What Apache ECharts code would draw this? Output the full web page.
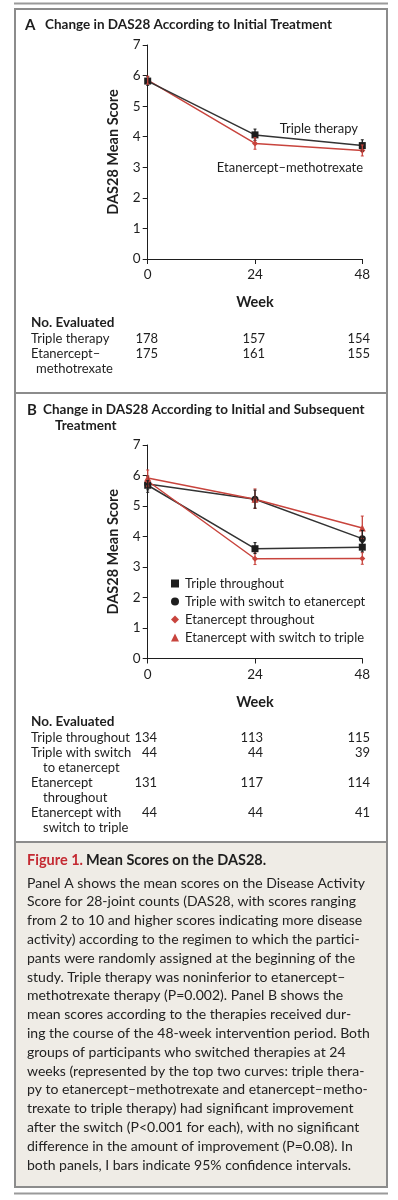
<!DOCTYPE html>
<html><head><meta charset="utf-8">
<script src="https://cdn.jsdelivr.net/npm/echarts@6/dist/echarts.min.js"></script>
<style>html,body{margin:0;padding:0;background:#fff}#c{width:398px;height:1200px}</style>
</head><body><div id="c"></div>
<script>
// ---------- data ----------
const weeks = [0, 24, 48];
const yTicks = [0, 1, 2, 3, 4, 5, 6, 7];

// Panel A
const aNames = ['Triple therapy', 'Etanercept–methotrexate'];
const aTriple = [5.82, 4.06, 3.71];
const aTripleLow = [5.68, 3.88, 3.53];
const aTripleHigh = [5.96, 4.25, 3.90];
const aEtan = [5.85, 3.78, 3.55];
const aEtanLow = [5.72, 3.59, 3.37];
const aEtanHigh = [5.98, 3.97, 3.73];
const aCounts = { 'Triple therapy': [178, 157, 154], 'Etanercept–methotrexate': [175, 161, 155] };

// Panel B
const bNames = ['Triple throughout', 'Triple with switch to etanercept', 'Etanercept throughout', 'Etanercept with switch to triple'];
const bTripleThru = [5.68, 3.60, 3.65];
const bTripleThruLow = [5.53, 3.44, 3.50];
const bTripleThruHigh = [5.83, 3.80, 3.80];
const bTripleSwitch = [5.72, 5.22, 3.93];
const bTripleSwitchLow = [5.45, 4.93, 3.66];
const bTripleSwitchHigh = [5.98, 5.52, 4.20];
const bEtanThru = [5.82, 3.27, 3.28];
const bEtanThruLow = [5.66, 3.08, 3.09];
const bEtanThruHigh = [5.98, 3.46, 3.47];
const bEtanSwitch = [5.92, 5.22, 4.28];
const bEtanSwitchLow = [5.63, 4.92, 3.93];
const bEtanSwitchHigh = [6.18, 5.56, 4.67];
const bCounts = [[134, 113, 115], [44, 44, 39], [131, 117, 114], [44, 44, 41]];

// ---------- style ----------
const FONT = 'Lato';
const BLACK = '#1e1e1e';
const LINEBLACK = '#333333';
const RED = '#c8443d';

const chart = echarts.init(document.getElementById('c'), null, { renderer: 'canvas' });

function pts(vals) { return weeks.map((w, i) => [w, vals[i]]); }
function ci(lo, hi) { return weeks.map((w, i) => [w, lo[i], hi[i]]); }

function lineSeries(name, vals, gi, color, symbol, size) {
  return {
    type: 'line', name, xAxisIndex: gi, yAxisIndex: gi, data: pts(vals),
    symbol, symbolSize: size, showAllSymbol: true, z: 3,
    lineStyle: { color: color === RED ? RED : LINEBLACK, width: 1.5 },
    itemStyle: { color, borderWidth: 0 },
    emphasis: { disabled: true }, animation: false
  };
}
function errSeries(lo, hi, gi, color) {
  return {
    type: 'custom', xAxisIndex: gi, yAxisIndex: gi, data: ci(lo, hi), z: 4, animation: false,
    renderItem(params, api) {
      const p1 = api.coord([api.value(0), api.value(1)]);
      const p2 = api.coord([api.value(0), api.value(2)]);
      return {
        type: 'group', children: [
          { type: 'line', shape: { x1: p1[0], y1: p1[1], x2: p2[0], y2: p2[1] }, style: { stroke: color, lineWidth: 1.3 } },
          { type: 'line', shape: { x1: p1[0] - 1.5, y1: p1[1], x2: p1[0] + 1.5, y2: p1[1] }, style: { stroke: color, lineWidth: 1 } },
          { type: 'line', shape: { x1: p2[0] - 1.5, y1: p2[1], x2: p2[0] + 1.5, y2: p2[1] }, style: { stroke: color, lineWidth: 1 } }
        ]
      };
    }
  };
}

function xAxis(gi) {
  return {
    type: 'value', gridIndex: gi, min: 0, max: 48, interval: 24,
    name: 'Week', nameLocation: 'middle', nameGap: 36,
    nameTextStyle: { fontFamily: FONT, fontWeight: 'bold', fontSize: 14.5, color: BLACK },
    axisLine: { show: true, lineStyle: { color: BLACK, width: 1 } },
    axisTick: { show: true, length: 5, inside: false, lineStyle: { color: BLACK } },
    axisLabel: { fontFamily: FONT, fontSize: 13.5, color: BLACK, margin: 9 },
    splitLine: { show: false }
  };
}
function yAxis(gi) {
  return {
    type: 'value', gridIndex: gi, min: 0, max: 7, interval: 1,
    name: 'DAS28 Mean Score', nameLocation: 'middle', nameRotate: 90, nameGap: 27,
    nameTextStyle: { fontFamily: FONT, fontWeight: 'bold', fontSize: 14.5, color: BLACK },
    axisLine: { show: true, lineStyle: { color: BLACK, width: 1 } },
    axisTick: { show: true, length: 5, lineStyle: { color: BLACK } },
    axisLabel: { fontFamily: FONT, fontSize: 13.5, color: BLACK, margin: 7,
      formatter: v => (yTicks.indexOf(v) >= 0 ? String(v) : '') },
    splitLine: { show: false }
  };
}

// ---------- graphics (frame, text) ----------
const G = [];
function txt(x, y, text, o = {}) {
  G.push({ type: 'text', x, y, silent: true, z: 10,
    style: Object.assign({ text, fontFamily: FONT, fontSize: 13, fill: BLACK, verticalAlign: 'middle', align: 'left' }, o) });
}
// caption background
G.push({ type: 'rect', shape: { x: 15, y: 842, width: 372, height: 345 }, style: { fill: '#efece6' }, silent: true, z: 1 });
// frame
G.push({ type: 'rect', shape: { x: 15, y: 9, width: 372, height: 1178 }, style: { fill: null, stroke: '#8c8c8c', lineWidth: 2 }, silent: true, z: 2 });
G.push({ type: 'line', shape: { x1: 15, y1: 393, x2: 387, y2: 393 }, style: { stroke: '#8c8c8c', lineWidth: 2 }, silent: true, z: 2 });
G.push({ type: 'line', shape: { x1: 15, y1: 842, x2: 387, y2: 842 }, style: { stroke: '#8c8c8c', lineWidth: 2 }, silent: true, z: 2 });
G.push({ type: 'line', shape: { x1: 14, y1: 3.5, x2: 388, y2: 3.5 }, style: { stroke: '#9a9a9a', lineWidth: 2 }, silent: true, z: 2 });
G.push({ type: 'line', shape: { x1: 14, y1: 1193.5, x2: 388, y2: 1193.5 }, style: { stroke: '#9a9a9a', lineWidth: 2 }, silent: true, z: 2 });

// panel titles
txt(25, 25, 'A', { fontWeight: 'bold', fontSize: 15 });
txt(45, 25, 'Change in DAS28 According to Initial Treatment', { fontWeight: 'bold', fontSize: 13.5 });
txt(27, 410, 'B', { fontWeight: 'bold', fontSize: 15 });
txt(43, 410, 'Change in DAS28 According to Initial and Subsequent', { fontWeight: 'bold', fontSize: 13.5 });
txt(55, 426, 'Treatment', { fontWeight: 'bold', fontSize: 13.5 });

// panel A curve labels
txt(358, 129, aNames[0], { align: 'right', fontSize: 13 });
txt(363, 168, aNames[1], { align: 'right', fontSize: 13 });

// tables
const colR = [158, 265, 370];
txt(31, 323, 'No. Evaluated', { fontWeight: 'bold', fontSize: 13.5 });
txt(31, 339, 'Triple therapy');
txt(31, 354, 'Etanercept–');
txt(36, 369, 'methotrexate');
[339, 354].forEach((y, r) => aCounts[aNames[r]].forEach((n, c) => txt(colR[c], y, String(n), { align: 'right' })));

const colRB = [157, 263, 370];
txt(31, 722, 'No. Evaluated', { fontWeight: 'bold', fontSize: 13.5 });
txt(31, 738, 'Triple throughout');
txt(31, 753, 'Triple with switch');
txt(43, 768, 'to etanercept');
txt(31, 783, 'Etanercept');
txt(43, 798, 'throughout');
txt(31, 813, 'Etanercept with');
txt(43, 828, 'switch to triple');
[738, 753, 783, 813].forEach((y, r) => bCounts[r].forEach((n, c) => txt(colRB[c], y, String(n), { align: 'right' })));

// caption
G.push({ type: 'text', x: 27, y: 860, silent: true, z: 10, style: {
  text: '{r|Figure 1.} {b|Mean Scores on the DAS28.}', verticalAlign: 'middle', fontFamily: FONT,
  rich: { r: { fill: '#c42a32', color: '#c42a32', fontFamily: FONT, fontSize: 14.5, fontWeight: 'bold' },
          b: { fill: BLACK, color: BLACK, fontFamily: FONT, fontSize: 14.5, fontWeight: 'bold' } } } });
const capLines = [
  'Panel A shows the mean scores on the Disease Activity',
  'Score for 28-joint counts (DAS28, with scores ranging',
  'from 2 to 10 and higher scores indicating more disease',
  'activity) according to the regimen to which the partici-',
  'pants were randomly assigned at the beginning of the',
  'study. Triple therapy was noninferior to etanercept–',
  'methotrexate therapy (P=0.002). Panel B shows the',
  'mean scores according to the therapies received dur-',
  'ing the course of the 48-week intervention period. Both',
  'groups of participants who switched therapies at 24',
  'weeks (represented by the top two curves: triple thera-',
  'py to etanercept–methotrexate and etanercept–metho-',
  'trexate to triple therapy) had significant improvement',
  'after the switch (P<0.001 for each), with no significant',
  'difference in the amount of improvement (P=0.08). In',
  'both panels, I bars indicate 95% confidence intervals.'
];
capLines.forEach((l, i) => txt(27, 883 + i * 18.8, l, { fontSize: 14, fill: '#222' }));

const option = {
  backgroundColor: '#ffffff',
  animation: false,
  textStyle: { fontFamily: FONT },
  grid: [
    { left: 147.7, top: 45, width: 214.6, height: 214, containLabel: false },
    { left: 147.7, top: 445, width: 214.6, height: 213.5, containLabel: false }
  ],
  xAxis: [xAxis(0), xAxis(1)],
  yAxis: [yAxis(0), yAxis(1)],
  legend: {
    orient: 'vertical', left: 166, top: 572, itemWidth: 8, itemHeight: 8, itemGap: 5,
    selectedMode: false,
    textStyle: { fontFamily: FONT, fontSize: 13, color: BLACK, lineHeight: 13, padding: [0, 0, 0, 1] },
    data: [
      { name: bNames[0], icon: 'rect', itemStyle: { color: BLACK } },
      { name: bNames[1], icon: 'circle', itemStyle: { color: BLACK } },
      { name: bNames[2], icon: 'diamond', itemStyle: { color: RED } },
      { name: bNames[3], icon: 'triangle', itemStyle: { color: RED } }
    ]
  },
  series: [
    errSeries(aTripleLow, aTripleHigh, 0, BLACK),
    errSeries(aEtanLow, aEtanHigh, 0, RED),
    lineSeries(aNames[1], aEtan, 0, RED, 'diamond', 6),
    lineSeries(aNames[0], aTriple, 0, BLACK, 'rect', 7),

    errSeries(bEtanSwitchLow, bEtanSwitchHigh, 1, RED),
    errSeries(bTripleSwitchLow, bTripleSwitchHigh, 1, BLACK),
    errSeries(bEtanThruLow, bEtanThruHigh, 1, RED),
    errSeries(bTripleThruLow, bTripleThruHigh, 1, BLACK),
    lineSeries(bNames[1], bTripleSwitch, 1, BLACK, 'circle', 7),
    lineSeries(bNames[3], bEtanSwitch, 1, RED, 'triangle', 7),
    lineSeries(bNames[0], bTripleThru, 1, BLACK, 'rect', 7),
    lineSeries(bNames[2], bEtanThru, 1, RED, 'diamond', 6)
  ],
  graphic: G
};
chart.setOption(option);
</script></body></html>
